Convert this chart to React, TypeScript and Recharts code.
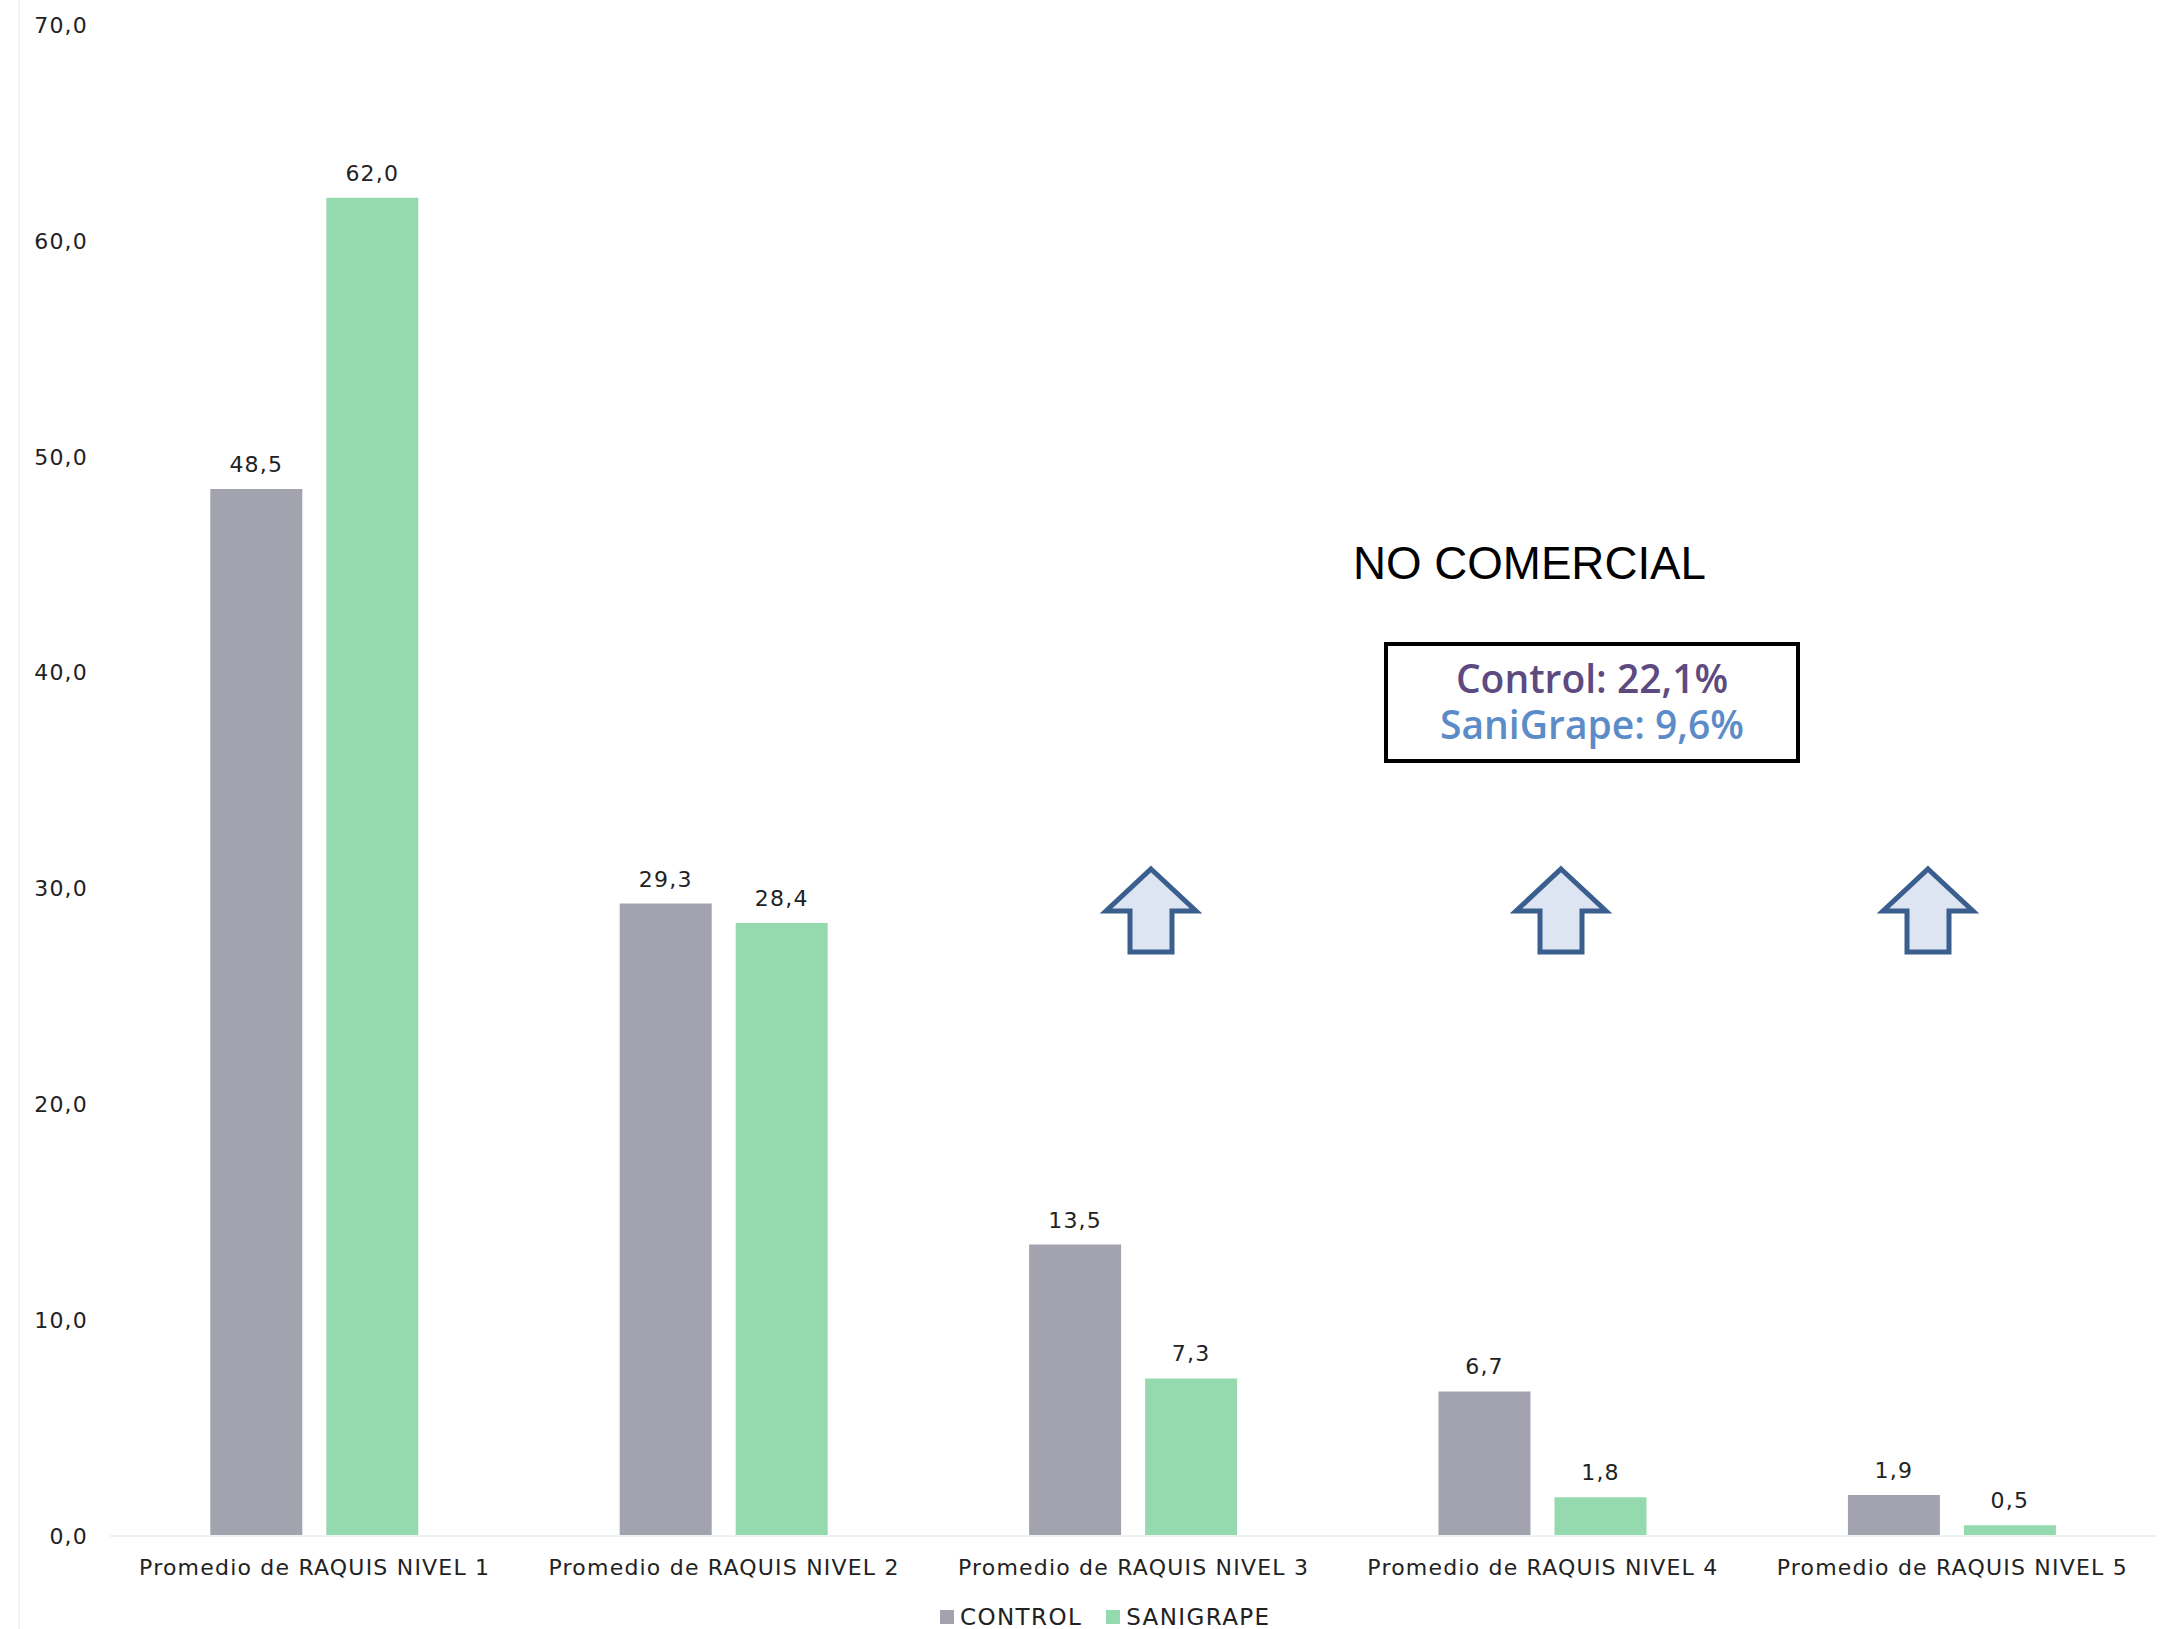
import React from "react";
import { BarChart, Bar, XAxis, YAxis, LabelList, Legend } from "recharts";

const categories = [
  "Promedio de RAQUIS NIVEL 1",
  "Promedio de RAQUIS NIVEL 2",
  "Promedio de RAQUIS NIVEL 3",
  "Promedio de RAQUIS NIVEL 4",
  "Promedio de RAQUIS NIVEL 5",
];
const controlValues = [48.5, 29.3, 13.5, 6.7, 1.9];
const sanigrapeValues = [62.0, 28.4, 7.3, 1.8, 0.5];
const yTicks = [0, 10, 20, 30, 40, 50, 60, 70];
const seriesNames = ["CONTROL", "SANIGRAPE"];
const seriesColors = ["#A2A3AE", "#95D9AF"];
const boxLines = ["Control: 22,1%", "SaniGrape: 9,6%"];
const boxColors = ["#5D4A80", "#5B8CC7"];

const data = categories.map((c, i) => ({
  name: c,
  control: controlValues[i],
  sanigrape: sanigrapeValues[i],
}));

const fmt = (v: number) => Number(v).toFixed(1).replace(".", ",");
const FONT = "'DejaVu Sans', sans-serif";
const textStyle = { fontFamily: FONT, fontSize: 22, letterSpacing: 1.2 };

const LegendContent = () => (
  <div
    style={{
      width: 2182,
      height: 30,
      boxSizing: "border-box",
      paddingLeft: 940,
      paddingTop: 6,
      display: "flex",
      alignItems: "center",
      fontFamily: FONT,
      fontSize: 23,
      letterSpacing: 1.4,
      color: "#222",
      lineHeight: "23px",
    }}
  >
    {seriesNames.map((n, i) => (
      <div key={n} style={{ display: "flex", alignItems: "center", marginRight: 24 }}>
        <span style={{ display: "inline-block", width: 14, height: 14, background: seriesColors[i], marginRight: 6 }} />
        <span>{n}</span>
      </div>
    ))}
  </div>
);

const arrowCenters = [1151, 1561, 1928];
const arrowPoints = (cx: number) =>
  [
    [cx, 869],
    [cx + 45, 911],
    [cx + 21, 911],
    [cx + 21, 952],
    [cx - 21, 952],
    [cx - 21, 911],
    [cx - 45, 911],
  ]
    .map((p) => p.join(","))
    .join(" ");

export default function App() {
  return (
    <div style={{ position: "absolute", left: 0, top: 0, width: 2182, height: 1629, background: "#fff", overflow: "hidden" }}>
      <BarChart
        width={2182}
        height={1629}
        data={data}
        margin={{ top: 25, right: 25, left: 0, bottom: 0 }}
        barCategoryGap="24.5%"
        barGap={24}
      >
        <XAxis
          dataKey="name"
          axisLine={{ stroke: "#EAF4F0", strokeWidth: 2 }}
          tickLine={false}
          tickSize={0}
          tickMargin={23}
          height={63}
          interval={0}
          tick={{ ...textStyle, fill: "#222" }}
        />
        <YAxis
          domain={[0, 70]}
          ticks={yTicks}
          width={110}
          axisLine={false}
          tickLine={false}
          tickSize={0}
          tickMargin={22}
          tickFormatter={fmt}
          tick={{ ...textStyle, fill: "#222" }}
        />
        <Legend verticalAlign="bottom" align="left" wrapperStyle={{ left: 0, width: 2182 }} content={<LegendContent />} />
        <Bar dataKey="control" name={seriesNames[0]} fill={seriesColors[0]} isAnimationActive={false}>
          <LabelList dataKey="control" position="top" offset={17} formatter={fmt} style={{ ...textStyle, fill: "#222" }} />
        </Bar>
        <Bar dataKey="sanigrape" name={seriesNames[1]} fill={seriesColors[1]} isAnimationActive={false}>
          <LabelList dataKey="sanigrape" position="top" offset={17} formatter={fmt} style={{ ...textStyle, fill: "#222" }} />
        </Bar>
      </BarChart>
      <svg
        width={2182}
        height={1629}
        style={{ position: "absolute", left: 0, top: 0, pointerEvents: "none" }}
      >
        <line x1={19} y1={0} x2={19} y2={1629} stroke="#EEF6F3" strokeWidth={2} />
        <text
          x={1353}
          y={579}
          fontFamily="'Liberation Sans', sans-serif"
          fontSize={47}
          textLength={353}
          lengthAdjust="spacingAndGlyphs"
          fill="#000"
        >
          NO COMERCIAL
        </text>
        <rect x={1386} y={644} width={412} height={117} fill="#fff" stroke="#000" strokeWidth={4} />
        <text x={1592} y={693} textAnchor="middle" fontFamily="'Open Sans', sans-serif" fontWeight={600} fontSize={39} fill={boxColors[0]}>
          {boxLines[0]}
        </text>
        <text x={1592} y={739} textAnchor="middle" fontFamily="'Open Sans', sans-serif" fontWeight={600} fontSize={39} fill={boxColors[1]}>
          {boxLines[1]}
        </text>
        {arrowCenters.map((cx) => (
          <polygon key={cx} points={arrowPoints(cx)} fill="#DCE5F1" stroke="#3A5F8E" strokeWidth={5} strokeLinejoin="miter" />
        ))}
      </svg>
    </div>
  );
}
